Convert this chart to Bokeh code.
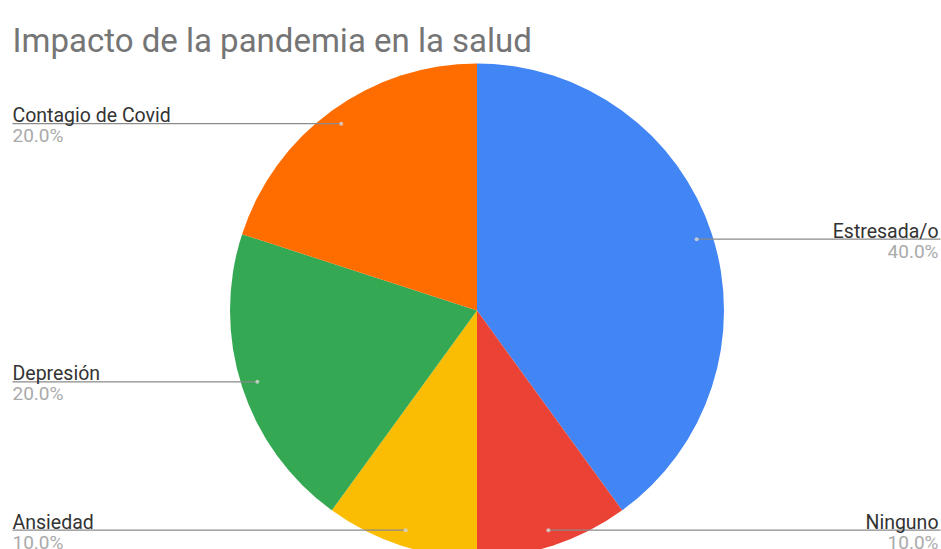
import numpy as np
from bokeh.plotting import figure
from bokeh.models import Range1d
from bokeh.core.properties import value
from bokeh.embed import file_html
from bokeh.resources import INLINE

title = "Impacto de la pandemia en la salud"
categories = ["Estresada/o", "Ninguno", "Ansiedad", "Depresión", "Contagio de Covid"]
values = [40, 10, 10, 20, 20]
colors = ["#4285F4", "#EA4335", "#FBBC04", "#34A853", "#FF6D01"]

W, H = 941, 549
def Y(ref_y):
    return H - ref_y

cx, cy = 476.5, Y(310)
R = 247

p = figure(width=W, height=H, output_backend="svg", toolbar_location=None,
           x_range=Range1d(0, W), y_range=Range1d(0, H), min_border=0)
p.axis.visible = False
p.grid.visible = False
p.outline_line_color = None
p.background_fill_color = "white"

vals = np.array(values, dtype=float)
frac = vals / vals.sum()
cum = np.concatenate([[0], np.cumsum(frac)])
start = np.pi / 2 - 2 * np.pi * cum[:-1]
end = np.pi / 2 - 2 * np.pi * cum[1:]

p.wedge(x=cx, y=cy, radius=R, start_angle=start, end_angle=end,
        direction="clock", fill_color=colors, line_color=None)

mid = (start + end) / 2
rd = R * 0.935
dx = cx + rd * np.cos(mid)
dy = cy + rd * np.sin(mid)

font = value("Roboto")
for i, cat in enumerate(categories):
    right = np.cos(mid[i]) > 0
    if right:
        x0, x1 = dx[i], 940
        tx, align = 938, "right"
    else:
        x0, x1 = 12, dx[i]
        tx, align = 12, "left"
    p.line([x0, x1], [dy[i], dy[i]], line_color="#8a8a8a", line_width=1.2)
    p.scatter([dx[i]], [dy[i]], size=4, fill_color="#d8d8d8", line_color=None, fill_alpha=0.8)
    p.text([tx], [dy[i] + 8], text=[cat], text_font=font, text_font_size="19.5px",
           text_color="#333333", text_align=align, text_baseline="alphabetic")
    p.text([tx], [dy[i] - 0.5], text=[f"{values[i]/vals.sum()*100:.1f}%"], text_font=font,
           text_font_size="19px", text_color="#aaaaaa", text_align=align, text_baseline="top")

p.text([12], [Y(40)], text=[title], text_font=font, text_font_size="33px",
       text_color="#757575", text_align="left", text_baseline="alphabetic")

open("out.html", "w").write(file_html(p, INLINE))
